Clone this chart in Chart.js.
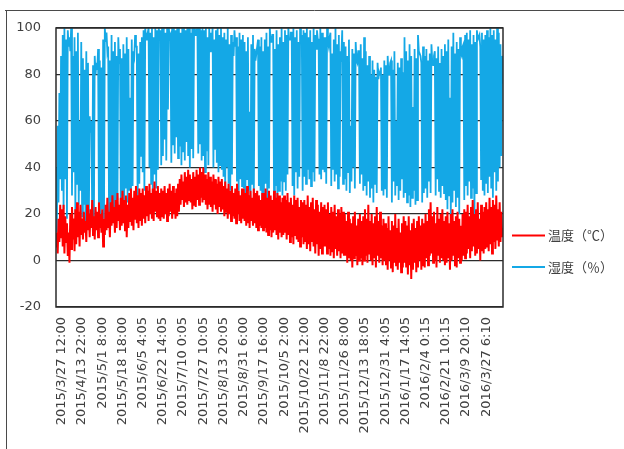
<!DOCTYPE html>
<html><head><meta charset="utf-8">
<script src="https://cdn.jsdelivr.net/npm/chart.js@4/dist/chart.umd.min.js"></script>
<style>html,body{margin:0;padding:0;background:#fff;}#wrap{position:relative;width:624px;height:449px;}</style>
</head><body><div id="wrap"><canvas id="c" width="624" height="449"></canvas></div>
<script>
const tickLabels = [
  "2015/3/27 12:00","2015/4/13 22:00","2015/5/1 8:00","2015/5/18 18:00","2015/6/5 4:05",
  "2015/6/22 14:05","2015/7/10 0:05","2015/7/27 10:05","2015/8/13 20:05","2015/8/31 6:00",
  "2015/9/17 16:00","2015/10/5 2:00","2015/10/22 12:00","2015/11/8 22:00","2015/11/26 8:00",
  "2015/12/13 18:05","2015/12/31 4:05","2016/1/17 14:05","2016/2/4 0:15","2016/2/21 10:15",
  "2016/3/9 20:10","2016/3/27 6:10"
];
const seriesNames = ["温度（℃）", "湿度（％）"];

const temperature = [
  6,12,3,18,8,24,10,
  22,6,24,3,19,8,16,2,12,-1,20,5,23,9,18,4,22,7,25,10,21,6,24,11,
  18,9,21,12,17,8,24,13,20,10,22,14,26,11,19,9,23,13,21,10,25,14,20,12,
  22,6,18,11,24,13,27,14,21,10,25,15,28,16,23,12,26,14,29,17,24,13,27,15,
  30,16,26,13,28,10,24,14,29,17,31,15,27,13,30,18,32,16,28,14,31,17,29,15,
  31,18,28,16,32,19,30,17,33,20,29,18,31,17,34,21,30,19,32,18,29,17,31,19,
  30,18,32,20,29,17,31,19,33,21,30,18,32,20,29,18,31,19,33,21,35,24,37,26,
  34,23,38,25,36,24,39,26,37,25,35,22,38,24,36,23,39,26,37,24,40,27,38,25,
  40,26,37,24,35,22,38,24,36,23,34,21,37,24,35,22,33,20,36,23,34,21,35,22,
  32,19,34,21,31,18,33,20,30,17,32,19,29,18,31,16,33,20,30,17,28,16,31,18,
  31,17,29,15,32,16,28,14,30,17,27,15,31,16,29,14,30,13,28,15,26,14,29,13,
  29,14,31,12,27,11,30,13,28,10,26,12,30,13,27,11,29,9,28,12,25,10,27,11,
  28,12,26,9,29,11,25,8,27,10,24,7,28,11,26,9,27,8,23,6,26,10,25,7,
  26,8,24,5,28,7,23,4,25,8,27,6,22,3,26,7,24,2,21,5,25,3,23,6,
  24,6,22,3,25,5,20,2,23,4,21,1,24,5,19,2,22,4,20,1,23,3,21,2,
  20,2,17,-1,21,1,18,0,16,-3,19,1,21,2,15,-2,18,0,20,1,17,-2,19,0,
  22,2,18,-1,24,3,17,0,20,-2,16,1,19,-3,23,2,17,-1,21,1,15,-2,18,0,
  16,-2,14,-4,19,0,13,-3,17,-5,15,-1,20,-2,14,-4,18,-1,12,-5,16,-3,19,-1,
  17,-3,15,-6,19,-2,13,-8,16,-4,18,-1,14,-5,17,-3,19,0,15,-4,18,-2,16,-3,
  20,1,17,-2,22,2,25,3,19,-1,21,0,16,-3,23,2,18,-1,20,1,22,0,17,-2,
  19,-1,21,1,16,-4,20,0,22,2,17,-2,19,-3,21,1,18,-1,15,0,20,2,22,1,
  21,3,24,5,19,1,23,4,26,6,20,2,22,3,25,5,18,0,24,4,21,3,23,5,
  25,6,22,4,27,7,23,3,26,8,24,5,28,9,22,6,25,8,21,10,14
];

const humidity = [
  40,12,58,25,72,35,88,
  30,97,22,100,35,95,18,99,92,96,90,100,28,88,38,96,20,90,33,98,24,60,30,94,
  19,87,24,82,16,90,22,85,17,62,55,60,20,84,15,88,80,85,82,91,21,86,16,83,
  22,95,18,100,94,98,90,92,20,86,24,97,17,90,21,94,19,88,26,96,85,91,23,87,
  28,93,22,89,31,96,25,91,30,70,23,95,32,90,88,97,92,92,21,89,33,94,45,96,
  38,99,30,100,95,97,98,100,40,98,33,100,27,96,37,100,31,99,39,100,97,99,41,100,
  45,100,52,98,43,100,65,100,96,97,42,100,50,100,46,99,53,100,44,100,49,98,41,100,
  47,100,43,99,51,100,45,100,40,98,48,100,44,100,97,97,99,100,46,100,50,99,43,100,
  45,99,38,100,47,96,41,100,90,98,94,100,40,95,48,99,42,100,38,97,41,100,39,96,
  36,98,31,95,40,100,33,93,30,97,37,94,88,99,92,96,34,92,30,98,35,95,32,97,
  31,94,28,90,35,96,30,64,27,93,33,97,29,91,86,89,92,95,32,92,30,96,27,90,
  29,95,33,98,26,92,31,100,94,94,97,97,27,91,32,99,25,93,30,96,34,100,28,94,
  34,99,30,97,37,100,95,95,98,98,32,100,28,96,38,99,31,94,36,100,93,97,30,99,
  36,98,33,100,39,96,35,99,32,94,38,100,34,97,91,99,95,95,37,100,35,98,39,96,
  38,96,33,100,94,92,96,98,32,89,39,95,34,100,37,93,31,97,36,90,88,99,33,94,
  35,92,30,88,38,95,29,58,34,91,40,89,31,94,86,85,90,90,33,93,37,87,30,96,
  32,90,28,84,34,88,27,80,31,86,25,82,33,79,29,85,78,81,80,83,30,80,28,86,
  31,84,27,88,80,80,85,86,25,82,34,90,28,60,32,85,26,83,30,87,35,81,27,96,
  29,90,25,86,28,93,23,88,27,66,30,91,24,87,26,97,90,89,88,85,25,92,29,88,
  31,91,27,86,34,89,29,93,85,84,88,90,28,87,35,92,30,85,27,91,32,88,29,93,
  26,90,22,95,28,70,19,92,25,98,30,89,23,94,27,91,20,96,89,88,92,93,26,97,
  32,98,28,95,34,99,27,93,31,97,13,94,29,99,95,96,97,92,35,98,30,95,28,97,
  33,99,29,96,36,100,31,97,27,99,38,95,30,100,34,98,40,93,45,88,76
];

// first labelled sample and samples between labels
const firstTick = 7, tickStep = 24;
const tickIndex = tickLabels.map((_, k) => firstTick + k * tickStep);
const lastIndex = Math.max(temperature.length, humidity.length) - 1;

const textColor = '#404040';
const framePlugin = {
  id: 'frame',
  beforeDraw(chart) {
    const ctx = chart.ctx;
    ctx.save();
    ctx.fillStyle = '#fff';
    ctx.fillRect(0, 0, chart.width, chart.height);
    ctx.strokeStyle = '#4a4a4a';
    ctx.lineWidth = 1;
    ctx.beginPath();
    ctx.moveTo(5, 10.5); ctx.lineTo(chart.width, 10.5);
    ctx.moveTo(6.5, 10); ctx.lineTo(6.5, chart.height);
    ctx.stroke();
    ctx.restore();
  },
  afterDatasetsDraw(chart) {
    const a = chart.chartArea, ctx = chart.ctx;
    ctx.save();
    ctx.strokeStyle = '#2b2b2b';
    ctx.lineWidth = 1.5;
    ctx.strokeRect(a.left, a.top, a.right - a.left, a.bottom - a.top);
    ctx.restore();
  },
  afterDraw(chart) {
    const ctx = chart.ctx, a = chart.chartArea;
    ctx.save();
    ctx.font = '13px "Noto Sans CJK JP"';
    ctx.textBaseline = 'middle';
    ctx.textAlign = 'left';
    chart.data.datasets.forEach((ds, i) => {
      const y = 235.5 + i * 31.5;
      ctx.strokeStyle = ds.borderColor;
      ctx.lineWidth = 2.2;
      ctx.beginPath();
      ctx.moveTo(a.right + 9, y); ctx.lineTo(a.right + 42, y);
      ctx.stroke();
      ctx.fillStyle = textColor;
      ctx.fillText(ds.label, a.right + 45, y);
    });
    ctx.restore();
  }
};

new Chart(document.getElementById('c'), {
  type: 'line',
  data: {
    datasets: [
      { label: seriesNames[0], data: temperature.map((v, i) => ({x: i, y: v})),
        borderColor: '#ff0000', backgroundColor: '#ff0000', borderWidth: 2, pointRadius: 0, tension: 0 },
      { label: seriesNames[1], data: humidity.map((v, i) => ({x: i, y: v})),
        borderColor: '#14a8e6', backgroundColor: '#14a8e6', borderWidth: 1.8, pointRadius: 0, tension: 0 }
    ]
  },
  options: {
    responsive: false,
    animation: false,
    devicePixelRatio: 1,
    layout: { padding: { left: 0, top: 28, right: 121, bottom: 0 } },
    plugins: { legend: { display: false }, tooltip: { enabled: false } },
    scales: {
      x: {
        type: 'linear', min: 0, max: lastIndex,
        afterBuildTicks: (s) => { s.ticks = tickIndex.map(v => ({ value: v })); },
        afterFit: (s) => { s.height = 142; },
        grid: { display: false, drawTicks: false },
        border: { display: false },
        ticks: {
          autoSkip: false, minRotation: 90, maxRotation: 90, padding: 10,
          color: textColor, font: { family: 'DejaVu Sans', size: 13 },
          callback: (v, i) => tickLabels[i]
        }
      },
      y: {
        min: -20, max: 100,
        afterFit: (s) => { s.width = 56; },
        grid: { color: '#2b2b2b', lineWidth: 1.3, drawTicks: false },
        border: { display: false },
        ticks: { stepSize: 20, padding: 15, color: textColor, font: { family: 'DejaVu Sans', size: 13 } }
      }
    }
  },
  plugins: [framePlugin]
});
</script>
</body></html>
